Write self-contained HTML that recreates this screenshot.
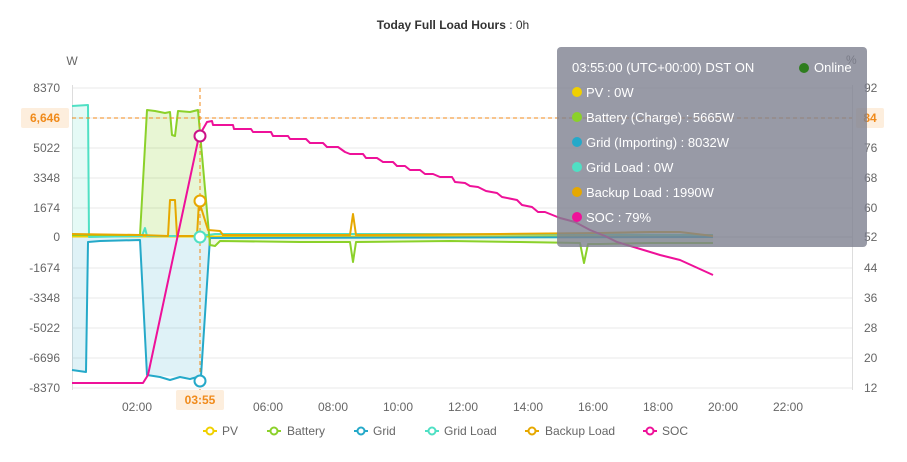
<!DOCTYPE html>
<html><head><meta charset="utf-8"><style>
body{margin:0;background:#fff;font-family:"Liberation Sans",sans-serif}
svg{display:block}
</style></head><body>
<svg width="907" height="462" xmlns="http://www.w3.org/2000/svg" font-family="Liberation Sans, sans-serif">
<rect width="907" height="462" fill="#fff"/>
<text x="453" y="29" text-anchor="middle" font-size="12" fill="#333"><tspan font-weight="bold">Today Full Load Hours</tspan> : 0h</text>
<text x="72" y="65" text-anchor="middle" font-size="12" fill="#666">W</text>
<g stroke="#e8e8e8" stroke-width="1">
<line x1="72" y1="88" x2="852" y2="88"/><line x1="72" y1="118" x2="852" y2="118"/>
<line x1="72" y1="148" x2="852" y2="148"/><line x1="72" y1="178" x2="852" y2="178"/>
<line x1="72" y1="208" x2="852" y2="208"/><line x1="72" y1="268" x2="852" y2="268"/>
<line x1="72" y1="298" x2="852" y2="298"/><line x1="72" y1="328" x2="852" y2="328"/>
<line x1="72" y1="358" x2="852" y2="358"/><line x1="72" y1="388" x2="852" y2="388"/>
</g>
<line x1="72" y1="237" x2="852" y2="237" stroke="#ddd"/>
<line x1="72.5" y1="85" x2="72.5" y2="390" stroke="#ddd"/>
<line x1="852.5" y1="85" x2="852.5" y2="390" stroke="#ddd"/>
<g font-size="12" fill="#666" text-anchor="end">
<text x="60" y="92">8370</text><text x="60" y="152">5022</text><text x="60" y="182">3348</text>
<text x="60" y="212">1674</text><text x="60" y="241">0</text><text x="60" y="272">-1674</text>
<text x="60" y="302">-3348</text><text x="60" y="332">-5022</text><text x="60" y="362">-6696</text>
<text x="60" y="392">-8370</text>
</g>
<g font-size="12" fill="#666">
<text x="864" y="92">92</text><text x="864" y="152">76</text><text x="864" y="182">68</text>
<text x="864" y="212">60</text><text x="864" y="241">52</text><text x="864" y="272">44</text>
<text x="864" y="302">36</text><text x="864" y="332">28</text><text x="864" y="362">20</text>
<text x="864" y="392">12</text><text x="846" y="64">%</text>
</g>
<g font-size="12" fill="#666" text-anchor="middle">
<text x="137" y="411">02:00</text><text x="268" y="411">06:00</text><text x="333" y="411">08:00</text>
<text x="398" y="411">10:00</text><text x="463" y="411">12:00</text><text x="528" y="411">14:00</text>
<text x="593" y="411">16:00</text><text x="658" y="411">18:00</text><text x="723" y="411">20:00</text>
<text x="788" y="411">22:00</text>
</g>
<polygon points="72,237 72,106 88,105 89,237" fill="#4fe0c4" fill-opacity="0.15"/>
<polygon points="72,370 86,372 88,242 140,240 147,375 201,378 210,238 210,237 72,237" fill="#25a9c9" fill-opacity="0.15"/>
<polygon points="141,237 147,110 155,111 165,113 170,112 172,135 175,136 178,111 190,112 198,110 210,237" fill="#8bd12a" fill-opacity="0.2"/>
<polygon points="210,237 210,245 215,246 220,241 713,243 713,237" fill="#8bd12a" fill-opacity="0.12"/>
<g fill="none" stroke-width="2" stroke-linejoin="round">
<polyline stroke="#f0d000" points="72,236.5 200,236.5 713,236.5"/>
<polyline stroke="#4fe0c4" points="72,106 88,105 89,237 142,236 145,228 147,236 200,236 215,234 400,234 713,235"/>
<polyline stroke="#25a9c9" points="72,370 86,372 88,242 100,241 140,240 147,375 160,377 170,380 180,377 190,379 201,376 210,238 713,237"/>
<polyline stroke="#8bd12a" points="72,235 140,235 147,110 155,111 165,113 170,112 172,135 175,136 178,111 190,112 198,110 210,245 215,246 220,241 300,242 350,242 353,262 356,242 450,241 520,242 580,243 584,263 588,244 600,244 650,243 713,243"/>
<polyline stroke="#e6a800" points="72,234 140,235 168,236 170,200 175,200 177,236 197,236 199,201 208,230 220,231 223,235 350,235 353,214 356,235 500,234 600,233 650,232 680,232 713,236"/>
<polyline stroke="#ee1199" points="72,383 143,383 148,375 199,136 207,122 212,121 213,125 233,125 234,129 251,129 253,132 271,132 273,136 288,136 290,139 306,139 310,143 323,143 327,147 338,147 345,152 350,154 363,154 366,158 377,158 383,162 393,162 397,166 405,166 410,170 420,170 425,174 433,174 440,177 452,177 455,182 465,183 470,186 478,187 486,191 497,193 502,197 517,200 522,205 532,207 538,212 545,212 560,218 575,222 590,230 605,236 617,242 637,248 660,255 680,260 713,275"/>
</g>
<line x1="72" y1="118" x2="852" y2="118" stroke="#f08a1a" stroke-dasharray="4,3"/>
<line x1="200" y1="88" x2="200" y2="390" stroke="#f08a1a" stroke-dasharray="4,3"/>
<rect x="21" y="108" width="48" height="20" rx="2" fill="#fdeedd"/>
<text x="45" y="122" text-anchor="middle" font-size="12" font-weight="bold" fill="#f08a1a">6,646</text>
<rect x="856" y="108" width="28" height="20" rx="2" fill="#fdeedd"/>
<text x="870" y="122" text-anchor="middle" font-size="12" font-weight="bold" fill="#f08a1a">84</text>
<rect x="176" y="390" width="48" height="20" rx="2" fill="#fdeedd"/>
<text x="200" y="404" text-anchor="middle" font-size="12" font-weight="bold" fill="#f08a1a">03:55</text>
<g fill="#fff" stroke-width="2">
<circle cx="200" cy="136" r="5.5" stroke="#cc1188"/>
<circle cx="200" cy="201" r="5.5" stroke="#e6a800"/>
<circle cx="200" cy="237" r="5.5" stroke="#4fe0c4"/>
<circle cx="200" cy="381" r="5.5" stroke="#25a9c9"/>
</g>
<rect x="557" y="47" width="310" height="200" rx="4" fill="#7e8190" fill-opacity="0.8"/>
<g font-size="13" fill="#fff">
<text x="572" y="72">03:55:00 (UTC+00:00) DST ON</text>
<circle cx="804" cy="68" r="5" fill="#2e7d1e"/><text x="814" y="72">Online</text>
<circle cx="577" cy="92" r="5" fill="#f0d000"/><text x="586" y="97">PV :  0W</text>
<circle cx="577" cy="117" r="5" fill="#8bd12a"/><text x="586" y="122">Battery (Charge) :  5665W</text>
<circle cx="577" cy="142" r="5" fill="#25a9c9"/><text x="586" y="147">Grid (Importing) :  8032W</text>
<circle cx="577" cy="167" r="5" fill="#4fe0c4"/><text x="586" y="172">Grid Load :  0W</text>
<circle cx="577" cy="192" r="5" fill="#e6a800"/><text x="586" y="197">Backup Load :  1990W</text>
<circle cx="577" cy="217" r="5" fill="#ee1199"/><text x="586" y="222">SOC :  79%</text>
</g>
<g stroke-width="2" fill="#fff">
<line x1="203" y1="431" x2="217" y2="431" stroke="#f0d000"/><circle cx="210" cy="431" r="3.5" stroke="#f0d000"/>
<line x1="267" y1="431" x2="281" y2="431" stroke="#8bd12a"/><circle cx="274" cy="431" r="3.5" stroke="#8bd12a"/>
<line x1="354" y1="431" x2="368" y2="431" stroke="#25a9c9"/><circle cx="361" cy="431" r="3.5" stroke="#25a9c9"/>
<line x1="425" y1="431" x2="439" y2="431" stroke="#4fe0c4"/><circle cx="432" cy="431" r="3.5" stroke="#4fe0c4"/>
<line x1="525" y1="431" x2="539" y2="431" stroke="#e6a800"/><circle cx="532" cy="431" r="3.5" stroke="#e6a800"/>
<line x1="643" y1="431" x2="657" y2="431" stroke="#ee1199"/><circle cx="650" cy="431" r="3.5" stroke="#ee1199"/>
</g>
<g font-size="12" fill="#666">
<text x="222" y="435">PV</text><text x="287" y="435">Battery</text><text x="373" y="435">Grid</text>
<text x="444" y="435">Grid Load</text><text x="545" y="435">Backup Load</text><text x="662" y="435">SOC</text>
</g>
</svg>
</body></html>
